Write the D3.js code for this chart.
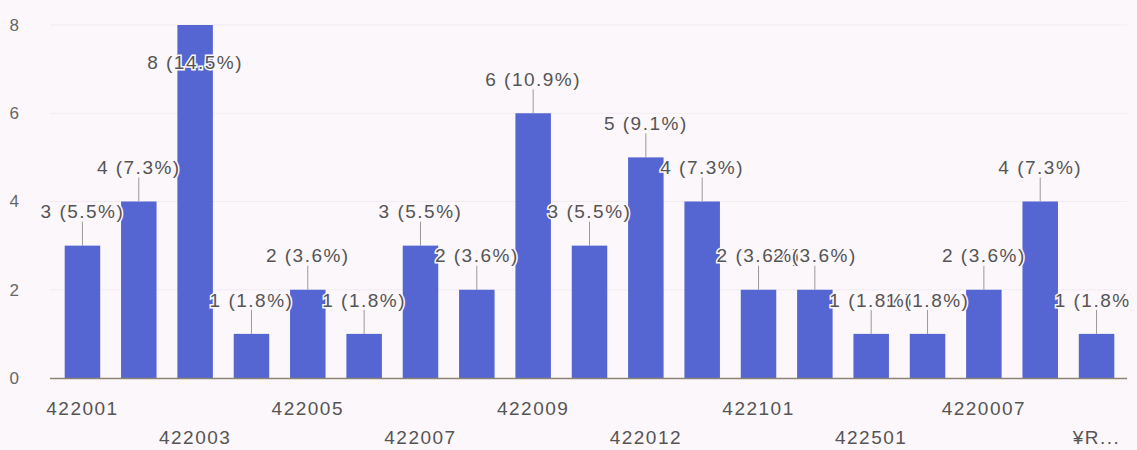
<!DOCTYPE html>
<html>
<head>
<meta charset="utf-8">
<script src="https://cdn.jsdelivr.net/npm/d3@7"></script>
<style>
  html, body { margin: 0; padding: 0; background: #fcf7fb; }
  svg { display: block; }
  text { font-family: "Liberation Sans", Arial, sans-serif; }
</style>
</head>
<body>
<div id="chart"></div>
<script>
// Responses per code
const categories = ["422001", "422002", "422003", "422004", "422005", "422006", "422007", "422008",
  "422009", "422010", "422012", "422013", "422101", "422201", "422501", "422601", "4220007", "4220008", "¥R..."];
const counts = [3, 4, 8, 1, 2, 1, 3, 2, 6, 3, 5, 4, 2, 2, 1, 1, 2, 4, 1];
const yTicks = [0, 2, 4, 6, 8];

const W = 1137, H = 450;
const total = d3.sum(counts);
const rows = counts.map((v, i) => ({ cat: categories[i], v }));

const svg = d3.select("#chart").append("svg")
  .attr("width", W).attr("height", H);

svg.append("rect").attr("width", W).attr("height", H).attr("fill", "#fcf7fb");

const x = d3.scaleBand().domain(categories).range([54, 1125]).paddingInner(0.37).paddingOuter(0.19);
const y = d3.scaleLinear().domain([0, 8]).range([378, 25]);
const cx = d => x(d.cat) + x.bandwidth() / 2;

// faint gridlines
svg.append("g").selectAll("line").data(yTicks.slice(1)).join("line")
  .attr("x1", 50).attr("x2", 1127)
  .attr("y1", d => y(d)).attr("y2", d => y(d))
  .attr("stroke", "#f2ecf2").attr("stroke-width", 1);

// y axis labels
const yAxis = d3.axisLeft(y).tickValues(yTicks).tickSize(0).tickPadding(0);
const gy = svg.append("g").attr("transform", "translate(19,0)").call(yAxis);
gy.select(".domain").remove();
gy.selectAll("text").attr("font-size", 17).attr("fill", "#666")
  .attr("font-family", "Liberation Sans, Arial, sans-serif");

// bars
svg.append("g").selectAll("rect").data(rows).join("rect")
  .attr("x", d => x(d.cat))
  .attr("y", d => y(d.v))
  .attr("width", x.bandwidth())
  .attr("height", d => y(0) - y(d.v))
  .attr("fill", "#5565d2");

// baseline
svg.append("line").attr("x1", 50).attr("x2", 1127)
  .attr("y1", y(0) + 0.5).attr("y2", y(0) + 0.5)
  .attr("stroke", "#8a8474").attr("stroke-width", 1.5);

// x axis labels: every other category, alternating rows
const xAxis = d3.axisBottom(x).tickSize(0).tickPadding(0)
  .tickFormat((d, i) => i % 2 === 0 ? d : "");
const gx = svg.append("g").attr("transform", `translate(0,${y(0)})`).call(xAxis);
gx.select(".domain").remove();
gx.selectAll("text")
  .attr("font-size", 19).attr("fill", "#555")
  .attr("letter-spacing", "1.5px")
  .attr("font-family", "Liberation Sans, Arial, sans-serif")
  .attr("y", (d, i) => (i % 4 === 0 ? 30 : 59))
  .attr("dy", "0.35em");

// value annotations with leader lines
svg.append("clipPath").attr("id", "plotclip")
  .append("rect").attr("x", 0).attr("y", 0).attr("width", 1131).attr("height", H);

const ann = svg.append("g").attr("clip-path", "url(#plotclip)");
const fitsAbove = d => y(d.v) - 34 >= 20;
const labelY = d => fitsAbove(d) ? y(d.v) - 34 : y(d.v) + 37;
const label = d => `${d.v} (${(d.v / total * 100).toFixed(1)}%)`;

ann.selectAll("line").data(rows.filter(fitsAbove)).join("line")
  .attr("x1", cx).attr("x2", cx)
  .attr("y1", d => y(d.v))
  .attr("y2", d => labelY(d) + 10)
  .attr("stroke", "#999").attr("stroke-width", 1);

ann.selectAll("text").data(rows).join("text")
  .attr("x", cx)
  .attr("y", labelY)
  .attr("dy", "0.35em")
  .attr("text-anchor", "middle")
  .attr("font-size", 19)
  .attr("letter-spacing", "1.5px")
  .attr("fill", "#555")
  .attr("stroke", "#fcf7fb").attr("stroke-width", 3).attr("paint-order", "stroke")
  .text(label);
</script>
</body>
</html>
